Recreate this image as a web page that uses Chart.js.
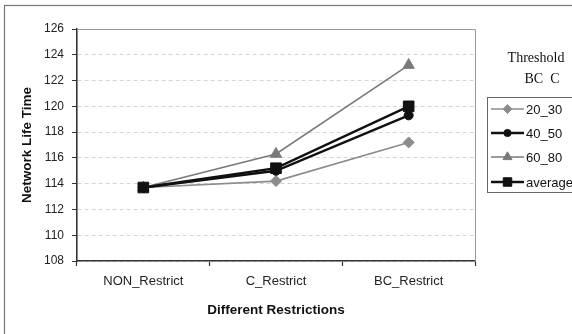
<!DOCTYPE html>
<html>
<head>
<meta charset="utf-8">
<script src="https://cdn.jsdelivr.net/npm/chart.js@4/dist/chart.umd.min.js"></script>
<style>
  html, body { margin: 0; padding: 0; background: #fff; }
  canvas { display: block; }
</style>
</head>
<body>
<canvas id="c" width="572" height="334"></canvas>
<script>
// Categories along the x axis
const restrictions = ['NON_Restrict', 'C_Restrict', 'BC_Restrict'];

// Network life time for each BC/C threshold pair
const th20_30 = [113.7, 114.2, 117.2];
const th40_50 = [113.7, 115.0, 119.3];
const th60_80 = [113.7, 116.3, 123.2];
const average = [113.7, 115.2, 120.0];

// Y axis range and step
const yMin = 108, yMax = 126, yStep = 2;

const SANS = 'Arial, "Liberation Sans", Helvetica, sans-serif';
const SERIF = '"Times New Roman", "Liberation Serif", serif';

const GRAY1 = '#8c8c8c';
const GRAY2 = '#7a7a7a';
const BLACK = '#111111';

// Frame, plot border and legend panel
const decorations = {
  id: 'decorations',
  beforeDraw(chart) {
    const ctx = chart.ctx;
    ctx.save();
    ctx.fillStyle = '#fff';
    ctx.fillRect(0, 0, chart.width, chart.height);
    ctx.strokeStyle = '#777';
    ctx.lineWidth = 1.2;
    ctx.strokeRect(4.5, 5.5, chart.width + 20, chart.height + 20);
    ctx.restore();
  },
  afterDraw(chart) {
    const ctx = chart.ctx;
    const a = chart.chartArea;
    ctx.save();
    ctx.setLineDash([]);
    // top and right edges of the plot area
    ctx.strokeStyle = '#999';
    ctx.lineWidth = 1;
    ctx.beginPath();
    ctx.moveTo(a.left, a.top + 0.5);
    ctx.lineTo(a.right + 0.5, a.top + 0.5);
    ctx.lineTo(a.right + 0.5, a.bottom);
    ctx.stroke();

    // legend heading
    ctx.fillStyle = '#111';
    ctx.font = '14px ' + SERIF;
    ctx.textAlign = 'center';
    ctx.textBaseline = 'middle';
    ctx.fillText('Threshold', 536, 58);
    ctx.fillText('BC  C', 542, 79);

    // legend box
    const bx = 487.5, by = 97.5, bw = 100, bh = 95;
    ctx.fillStyle = '#fff';
    ctx.fillRect(bx, by, bw, bh);
    ctx.strokeStyle = '#666';
    ctx.lineWidth = 1;
    ctx.strokeRect(bx, by, bw, bh);

    const rows = [109, 133, 157, 182];
    chart.data.datasets.forEach((ds, i) => {
      const y = rows[i];
      ctx.strokeStyle = ds.borderColor;
      ctx.lineWidth = ds.borderWidth;
      ctx.beginPath();
      ctx.moveTo(491, y);
      ctx.lineTo(524, y);
      ctx.stroke();
      ctx.fillStyle = ds.pointBackgroundColor;
      ctx.strokeStyle = ds.pointBorderColor;
      ctx.lineWidth = 1;
      Chart.helpers.drawPoint(ctx, {
        pointStyle: ds.pointStyle,
        radius: ds.pointRadius * 0.8,
        borderWidth: 1,
        rotation: 0
      }, 507.5, y);
      ctx.fillStyle = '#111';
      ctx.font = '13px ' + SANS;
      ctx.textAlign = 'left';
      ctx.textBaseline = 'middle';
      ctx.fillText(ds.label, 526, y + 1);
    });
    ctx.restore();
  }
};

function series(label, data, color, width, style, radius, order) {
  return {
    label, data,
    borderColor: color,
    backgroundColor: color,
    borderWidth: width,
    pointStyle: style,
    pointRadius: radius,
    pointHoverRadius: radius,
    pointBackgroundColor: color,
    pointBorderColor: color,
    pointBorderWidth: 1,
    tension: 0,
    fill: false,
    order
  };
}

new Chart(document.getElementById('c'), {
  type: 'line',
  data: {
    labels: restrictions,
    datasets: [
      series('20_30', th20_30, GRAY1, 1.6, 'rectRot', 5.5, 4),
      series('40_50', th40_50, BLACK, 2.4, 'circle', 4.5, 3),
      series('60_80', th60_80, GRAY2, 1.6, 'triangle', 6.5, 2),
      series('average', average, BLACK, 2.4, 'rect', 7.5, 1)
    ]
  },
  options: {
    responsive: false,
    animation: false,
    devicePixelRatio: 1,
    layout: { padding: { left: 0, top: 29, right: 97, bottom: 0 } },
    plugins: {
      legend: { display: false },
      tooltip: { enabled: false },
      title: { display: false }
    },
    scales: {
      x: {
        offset: true,
        afterFit(scale) { scale.height = 73; },
        grid: {
          offset: true,
          drawOnChartArea: false,
          tickLength: 5,
          tickColor: '#333',
          tickWidth: 1.2
        },
        border: { color: '#333', width: 1.6 },
        ticks: {
          color: '#222',
          font: { family: SANS, size: 13 },
          padding: 8,
          maxRotation: 0
        },
        title: {
          display: true,
          text: 'Different Restrictions',
          color: '#111',
          font: { family: SANS, size: 13.5, weight: 'bold' },
          padding: { top: 0, bottom: 16 }
        }
      },
      y: {
        min: yMin,
        max: yMax,
        afterFit(scale) { scale.width = 77; },
        ticks: {
          stepSize: yStep,
          color: '#222',
          font: { family: SANS, size: 12 },
          padding: 8
        },
        grid: {
          color: '#d4d4d4',
          lineWidth: 1,
          tickLength: 5,
          tickColor: '#333',
          tickWidth: 1,
          tickBorderDash: [],
          drawTicks: true
        },
        border: { color: '#333', width: 1.6, dash: [4, 3] },
        title: {
          display: true,
          text: 'Network Life Time',
          color: '#111',
          font: { family: SANS, size: 13.5, weight: 'bold' },
          padding: { top: 19, bottom: 0 }
        }
      }
    }
  },
  plugins: [decorations]
});
</script>
</body>
</html>
